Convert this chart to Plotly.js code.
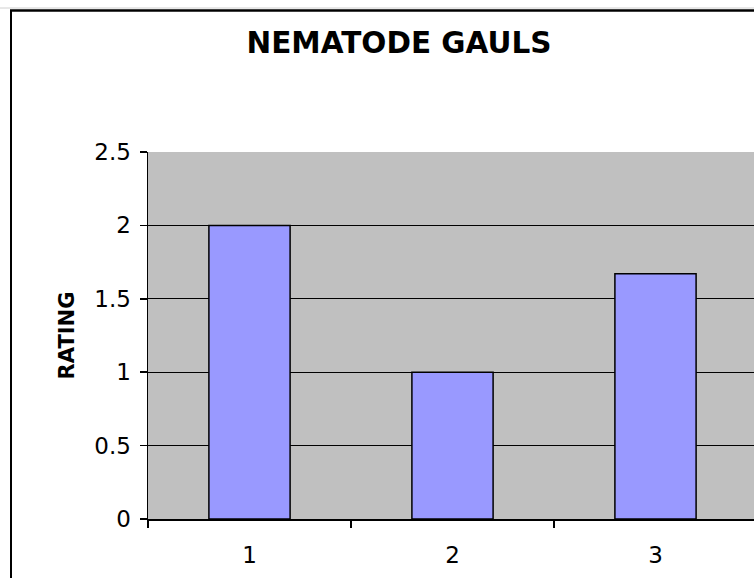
<!DOCTYPE html>
<html>
<head>
<meta charset="utf-8">
<script src="https://cdn.plot.ly/plotly-3.0.1.min.js"></script>
<style>
  html, body { margin: 0; padding: 0; overflow: hidden; background: #fff; width: 754px; height: 578px; }
  #chart { position: absolute; left: 0; top: 0; }
</style>
</head>
<body>
<div id="chart"></div>
<script>
const categories = ["1", "2", "3"];
const ratings = [2, 1, 1.67];
const chartTitle = "NEMATODE GAULS";
const yTitle = "RATING";
const yTicks = [0, 0.5, 1, 1.5, 2, 2.5];
const yTickLabels = ["0", "0.5", "1", "1.5", "2", "2.5"];

const W = 790, H = 578;
const ML = 148, MR = 33, MT = 152, MB = 59;
const PW = W - ML - MR, PH = H - MT - MB;
const font = "DejaVu Sans, Verdana, sans-serif";
const px = v => (v - ML) / PW;
const py = v => (H - MB - v) / PH;

const data = [{
  type: "bar",
  x: categories,
  y: ratings,
  width: 0.4,
  marker: { color: "#9999FF", line: { color: "#000000", width: 1.5 } },
  hoverinfo: "skip"
}];

const layout = {
  width: W,
  height: H,
  margin: { l: ML, r: MR, t: MT, b: MB, pad: 0 },
  paper_bgcolor: "#ffffff",
  plot_bgcolor: "#C0C0C0",
  showlegend: false,
  font: { family: font, color: "#000", size: 23 },
  title: {
    text: chartTitle,
    font: { family: font, size: 29.5, weight: "bold", color: "#000" },
    xref: "container", x: 399 / W, xanchor: "center",
    yref: "container", y: 1 - 43 / H, yanchor: "middle"
  },
  xaxis: {
    type: "category",
    range: [-0.5, 2.5],
    tickson: "boundaries",
    ticks: "outside",
    ticklen: 7,
    tickwidth: 1.5,
    tickcolor: "#000",
    showline: true,
    linecolor: "#000",
    linewidth: 1.5,
    showgrid: false,
    zeroline: false,
    ticklabelstandoff: 15,
    tickfont: { family: font, size: 23, color: "#000" },
    fixedrange: true
  },
  yaxis: {
    range: [0, 2.5],
    tickmode: "array",
    tickvals: yTicks,
    ticktext: yTickLabels,
    ticks: "outside",
    ticklen: 7,
    tickwidth: 1.5,
    tickcolor: "#000",
    showline: true,
    linecolor: "#000",
    linewidth: 1.5,
    showgrid: true,
    gridcolor: "#000",
    gridwidth: 1.2,
    zeroline: false,
    automargin: true,
    ticklabelstandoff: 4,
    tickfont: { family: font, size: 23, color: "#000" },
    title: { text: yTitle, font: { family: font, size: 21, weight: "bold", color: "#000" }, standoff: 14 },
    fixedrange: true
  },
  bargap: 0.6,
  shapes: [
    { type: "line", xref: "paper", yref: "paper", x0: px(0), x1: px(W), y0: py(8), y1: py(8), line: { color: "#d0d0d0", width: 1 } },
    { type: "line", xref: "paper", yref: "paper", x0: px(10), x1: px(W + 20), y0: py(10.5), y1: py(10.5), line: { color: "#000", width: 2.5 } },
    { type: "line", xref: "paper", yref: "paper", x0: px(11), x1: px(11), y0: py(10), y1: py(H + 20), line: { color: "#000", width: 2 } }
  ]
};

Plotly.newPlot("chart", data, layout, { displayModeBar: false, staticPlot: true });
</script>
</body>
</html>
